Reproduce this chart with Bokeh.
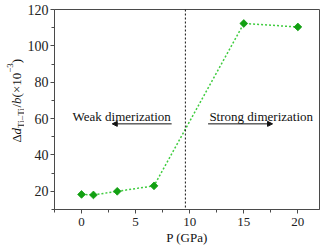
import numpy as np
from bokeh.plotting import figure
from bokeh.layouts import row
from bokeh.models import (Range1d, FixedTicker, Label, Span, Arrow, NormalHead,
                          ColumnDataSource)
from bokeh.embed import file_html
from bokeh.resources import INLINE

# ---- data ----
pressure = [0, 1.1, 3.3, 6.7, 15, 20]
delta_d = [18.3, 18.0, 20.0, 23.0, 112.3, 110.4]
boundary_p = 9.6
x_ticks = [0, 5, 10, 15, 20]
x_minor = [-2.5, 2.5, 7.5, 12.5, 17.5]
y_ticks = [20, 40, 60, 80, 100, 120]
y_minor = [10, 30, 50, 70, 90, 110]
weak_label = "Weak dimerization"
strong_label = "Strong dimerization"
x_title = "P (GPa)"

FONT = "Liberation Serif"
GREEN = "#12a012"
LINE_GREEN = "#3fcc3f"
AX = "#4a4a4a"
TXT = "#111111"

p = figure(width=300, height=250, output_backend="svg", toolbar_location=None,
           title=None,
           x_range=Range1d(-2.5, 22), y_range=Range1d(10, 120),
           min_border_left=28, min_border_right=5, min_border_top=9,
           min_border_bottom=41)
p.grid.visible = False
p.outline_line_color = AX
p.outline_line_width = 1

p.xaxis.ticker = FixedTicker(ticks=x_ticks, minor_ticks=x_minor)
p.yaxis.ticker = FixedTicker(ticks=y_ticks, minor_ticks=y_minor)
for ax, fs, so in ((p.xaxis, "13px", 4), (p.yaxis, "14px", 2)):
    ax.axis_line_color = AX
    ax.major_tick_line_color = AX
    ax.minor_tick_line_color = AX
    ax.major_tick_in = 0
    ax.major_tick_out = 4
    ax.minor_tick_in = 0
    ax.minor_tick_out = 3
    ax.major_label_text_font = FONT
    ax.major_label_text_font_size = fs
    ax.major_label_text_color = "#222222"
    ax.major_label_standoff = so

p.xaxis.axis_label = x_title
p.xaxis.axis_label_text_font = FONT
p.xaxis.axis_label_text_font_size = "13px"
p.xaxis.axis_label_text_font_style = "normal"
p.xaxis.axis_label_text_color = TXT
p.xaxis.axis_label_standoff = 1

src = ColumnDataSource(dict(x=pressure, y=delta_d))
p.line("x", "y", source=src, line_color=LINE_GREEN, line_width=1.5,
       line_dash="2 2")
p.scatter("x", "y", source=src, marker="square", angle=np.pi / 4, size=5.5,
          fill_color=GREEN, line_color=GREEN, line_width=0.8)

p.add_layout(Span(location=boundary_p, dimension="height", line_color=TXT,
                  line_dash="2 2", line_width=1))

p.add_layout(Label(x=-0.83, y=60.9, text=weak_label, text_font=FONT,
                   text_font_size="13px", text_color=TXT,
                   text_baseline="alphabetic"))
p.add_layout(Label(x=11.82, y=60.9, text=strong_label, text_font=FONT,
                   text_font_size="13px", text_color=TXT,
                   text_baseline="alphabetic"))
p.add_layout(Arrow(x_start=8.33, y_start=57.1, x_end=2.84, y_end=57.1,
                   line_color=TXT, line_width=1,
                   end=NormalHead(size=5, fill_color=TXT, line_color=TXT)))
p.add_layout(Arrow(x_start=11.7, y_start=57.1, x_end=17.66, y_end=57.1,
                   line_color=TXT, line_width=1,
                   end=NormalHead(size=5, fill_color=TXT, line_color=TXT)))

# y title strip: Δd_{Ti–Ti}/b(×10^{−3}), rotated; its frame is aligned with p's
yfig = figure(width=24, height=250, output_backend="svg", toolbar_location=None,
              title=None, x_range=Range1d(0, 24), y_range=Range1d(0, 250),
              x_axis_location=None, y_axis_location=None,
              min_border=0, outline_line_color=None)
yfig.grid.visible = False
pieces = [
    ("Δ", 13, "normal", 0, 7.96),
    ("d", 13, "italic", 0, 6.5),
    ("Ti–Ti", 9, "normal", 4.5, 20.5),
    ("/", 13, "normal", 0, 3.6),
    ("b", 13, "italic", 0, 6.5),
    ("(×10", 13, "normal", 0, 24.7),
    ("−3", 9, "normal", -6, 9.6),
    (")", 13, "normal", 0, 4.3),
]
base_x = 15.5
pos = 67
for txt, fs, style, shift, adv in pieces:
    yfig.add_layout(Label(x=base_x + shift, y=pos, x_units="screen", y_units="screen",
                          text=txt, angle=np.pi / 2,
                          text_font=FONT, text_font_style=style,
                          text_font_size=f"{fs}px", text_color=TXT,
                          text_baseline="alphabetic", text_align="left"))
    pos += adv

layout = row(yfig, p, spacing=0)
open("out.html", "w").write(file_html(layout, INLINE))
